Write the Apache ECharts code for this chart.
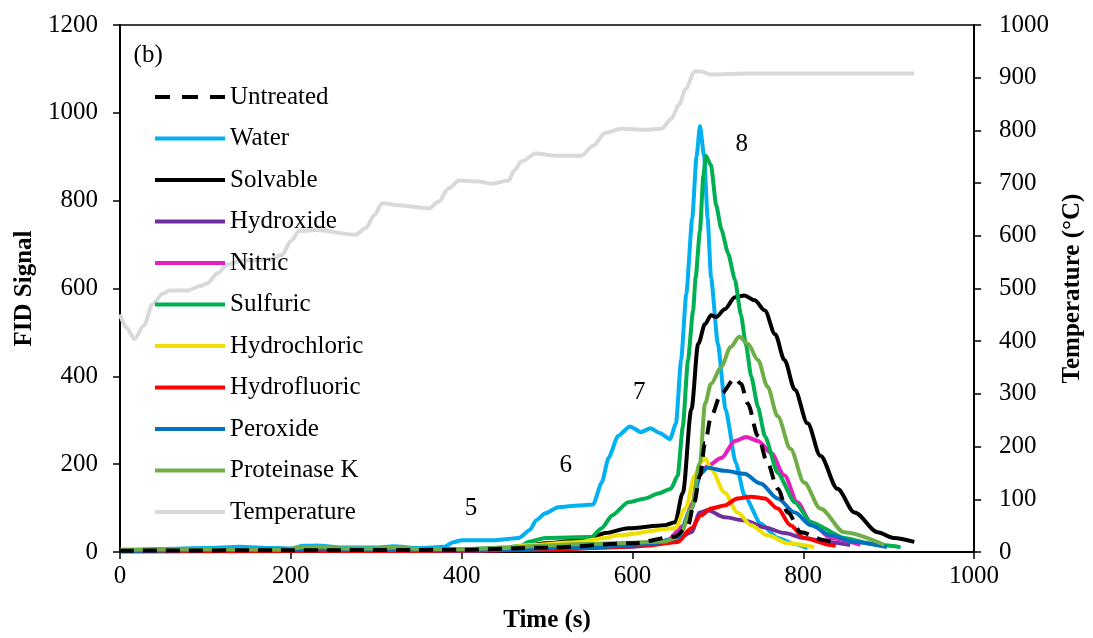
<!DOCTYPE html>
<html>
<head>
<meta charset="utf-8">
<script src="https://cdn.jsdelivr.net/npm/echarts@6/dist/echarts.min.js"></script>
<style>
  html, body { margin: 0; padding: 0; background: #fff; }
  #chart { width: 1093px; height: 638px; }
</style>
</head>
<body>
<div id="chart"></div>
<script>
// time (s), FID signal
const untreated = [[0,3],[200,4],[400,5],[500,10],[600,20],[650,35],[665,60],[672,110],[679,174],[685,248],[692,309],[704,361],[720,395],[727,383],[735,338],[747,264],[758,203],[770,144],[782,90],[797,45],[825,27],[834,22]]
const water = [[0,3],[50,7],[100,9],[140,12],[180,9],[200,8],[215,14],[230,15],[260,10],[300,10],[320,13],[350,9],[380,12],[390,22],[400,27],[440,27],[467,32],[480,50],[487,72],[498,88],[513,102],[537,106],[554,108],[564,158],[572,214],[583,264],[597,286],[610,273],[621,282],[632,271],[644,257],[651,293],[657,438],[663,587],[670,760],[675,900],[679,970],[684,900],[688,760],[692,625],[700,474],[709,325],[721,203],[731,129],[750,65],[770,32],[790,18],[805,9]]
const solvable = [[0,3],[100,4],[200,4],[220,8],[250,6],[300,5],[400,5],[450,7],[470,12],[498,20],[530,25],[550,30],[568,43],[595,54],[638,61],[650,68],[659,135],[669,325],[677,474],[685,519],[692,539],[698,535],[708,553],[720,580],[731,584],[743,573],[755,550],[767,496],[778,437],[790,370],[805,293],[820,219],[840,144],[860,90],[887,45],[906,32],[930,23]]
const hydroxide = [[0,2],[200,3],[400,3],[500,6],[600,12],[650,25],[669,45],[679,90],[688,95],[708,79],[731,72],[755,56],[778,43],[801,32],[828,23],[855,16]]
const nitric = [[0,2],[200,3],[400,4],[500,8],[600,15],[640,25],[660,60],[670,110],[677,174],[688,196],[704,214],[720,253],[733,262],[747,253],[762,226],[778,174],[793,113],[809,68],[832,32],[867,16]]
const sulfuric = [[0,4],[100,5],[200,4],[220,9],[250,7],[300,6],[350,5],[400,6],[450,10],[470,14],[478,23],[498,32],[552,34],[564,54],[576,83],[595,113],[615,122],[630,133],[645,144],[653,174],[659,286],[665,437],[671,550],[674,625],[679,731],[683,857],[686,902],[692,880],[698,790],[704,735],[712,680],[720,620],[727,540],[733,470],[739,400],[747,330],[755,264],[770,180],[790,113],[809,68],[848,32],[880,18],[914,11]]
const hydrochloric = [[0,3],[200,4],[400,5],[450,8],[478,16],[537,23],[568,32],[583,38],[650,54],[662,99],[673,174],[680,205],[685,214],[692,189],[708,135],[723,90],[739,61],[758,38],[782,20],[813,11]]
const hydrofluoric = [[0,1],[200,2],[400,3],[500,5],[576,11],[620,15],[653,23],[669,54],[680,83],[692,99],[708,106],[723,122],[739,126],[755,122],[770,99],[785,61],[801,32],[832,16],[838,14]]
const peroxide = [[0,2],[200,6],[230,8],[300,5],[400,4],[550,10],[620,18],[653,32],[669,99],[680,180],[688,192],[708,185],[731,178],[750,156],[770,122],[790,90],[809,61],[832,38],[860,23],[898,11]]
const proteinase = [[0,5],[60,6],[120,6],[190,5],[215,11],[235,12],[260,8],[300,8],[320,10],[350,7],[400,7],[450,9],[470,12],[500,15],[540,18],[600,21],[638,24],[650,32],[657,45],[669,99],[679,203],[685,338],[692,383],[704,422],[715,467],[725,490],[735,474],[747,437],[758,377],[770,309],[785,235],[801,158],[820,99],[848,45],[895,16]]
// time (s), temperature (°C)
const temperature = [[0,451],[8,425],[17,404],[28,430],[38,470],[50,490],[58,496],[78,496],[95,505],[102,510],[115,530],[125,545],[143,553],[175,555],[190,564],[200,590],[210,609],[230,611],[276,602],[288,615],[298,640],[307,662],[327,658],[362,652],[373,665],[385,690],[397,705],[420,703],[435,699],[455,705],[462,725],[470,741],[487,756],[510,752],[540,752],[554,771],[568,795],[587,803],[615,801],[634,803],[645,821],[655,850],[662,878],[673,912],[680,912],[692,906],[732,908],[930,908]]

const notes = ['(b)', '5', '6', '7', '8']
const notePos = [[33,1130],[411,99],[522,196],[608,363],[728,927]]

const seriesNames = ['Untreated','Water','Solvable','Hydroxide','Nitric','Sulfuric','Hydrochloric','Hydrofluoric','Peroxide','Proteinase K','Temperature']

const chart = echarts.init(document.getElementById('chart'))

const line = (name, data, color, extra) => Object.assign({
  name: name,
  type: 'line',
  data: data,
  showSymbol: false,
  symbol: 'none',
  smooth: 0.3,
  smoothMonotone: 'x',
  lineStyle: { color: color, width: 4 },
  itemStyle: { color: color },
  z: 3
}, extra || {})

const dashIcon = 'path://M0,0h15v4h-15z M27,0h16v4h-16z M55,0h15v4h-15z'

const option = {
  animation: false,
  textStyle: { fontFamily: 'Liberation Serif', color: '#000' },
  grid: { left: 120, right: 116, top: 25, bottom: 81, show: true, borderColor: '#000', borderWidth: 1.5 },
  legend: {
    data: seriesNames.map((n, i) => ({ name: n, icon: i === 0 ? dashIcon : 'rect' })),
    orient: 'vertical',
    left: 155,
    top: 84,
    padding: 0,
    itemWidth: 70,
    itemHeight: 4,
    itemGap: 15.5,
    textStyle: { fontSize: 25, lineHeight: 26, fontFamily: 'Liberation Serif', color: '#000' }
  },
  xAxis: {
    type: 'value',
    min: 0, max: 1000, interval: 200,
    name: 'Time (s)',
    nameLocation: 'middle',
    nameGap: 56,
    nameTextStyle: { fontSize: 25, fontWeight: 'bold', color: '#000' },
    axisLine: { lineStyle: { color: '#000', width: 2 } },
    axisTick: { length: 7, lineStyle: { color: '#000', width: 1.5 } },
    axisLabel: { fontSize: 25, margin: 12, color: '#000', formatter: v => String(v) },
    splitLine: { show: false }
  },
  yAxis: [
    {
      type: 'value',
      min: 0, max: 1200, interval: 200,
      name: 'FID Signal',
      nameLocation: 'middle',
      nameGap: 58,
      nameTextStyle: { fontSize: 25, fontWeight: 'bold', color: '#000' },
      axisLine: { show: true, lineStyle: { color: '#000', width: 2 } },
      axisTick: { show: true, length: 7, lineStyle: { color: '#000', width: 1.5 } },
      axisLabel: { fontSize: 25, margin: 22, color: '#000', formatter: v => String(v) },
      splitLine: { show: false }
    },
    {
      type: 'value',
      min: 0, max: 1000, interval: 100,
      position: 'right',
      name: 'Temperature (°C)',
      nameLocation: 'middle',
      nameGap: 85,
      nameRotate: 90,
      nameTextStyle: { fontSize: 25, fontWeight: 'bold', color: '#000' },
      axisLine: { show: true, lineStyle: { color: '#000', width: 2 } },
      axisTick: { show: true, length: 7, lineStyle: { color: '#000', width: 1.5 } },
      axisLabel: { fontSize: 25, margin: 25, color: '#000', formatter: v => String(v) },
      splitLine: { show: false }
    }
  ],
  series: [
    line('Temperature', temperature, '#D9D9D9', { yAxisIndex: 1, z: 2 }),
    line('Untreated', untreated, '#000000', { z: 4, lineStyle: { color: '#000000', width: 4, type: [14, 9] } }),
    line('Water', water, '#00B0F0', { smooth: 0.2 }),
    line('Solvable', solvable, '#000000'),
    line('Hydroxide', hydroxide, '#7030A0'),
    line('Nitric', nitric, '#E61EBE'),
    line('Sulfuric', sulfuric, '#00B050', { smooth: 0.2 }),
    line('Hydrochloric', hydrochloric, '#EEE000'),
    line('Hydrofluoric', hydrofluoric, '#FF0000'),
    line('Peroxide', peroxide, '#0070C0'),
    line('Proteinase K', proteinase, '#70AD47'),
    {
      type: 'scatter',
      silent: true,
      symbolSize: 0,
      itemStyle: { opacity: 1 },
      data: notes.map((n, i) => ({ name: n, value: notePos[i] })),
      label: { show: true, position: 'inside', formatter: '{b}', fontSize: 25, color: '#000', opacity: 1, fontFamily: 'Liberation Serif' },
      z: 5
    }
  ]
}

chart.setOption(option)
</script>
</body>
</html>
